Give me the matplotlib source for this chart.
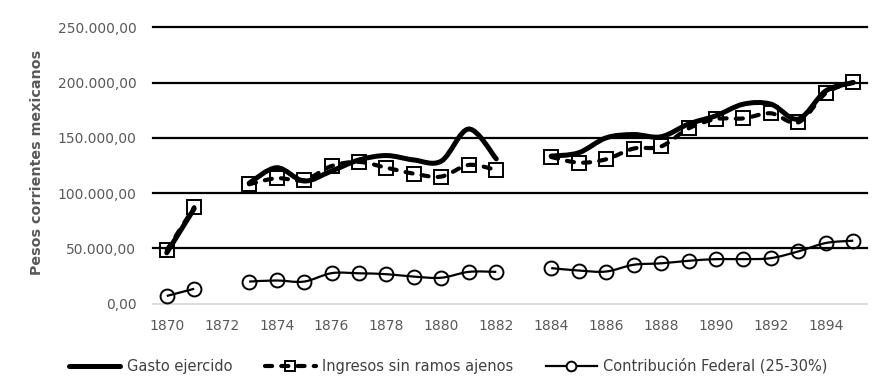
import numpy as np
import matplotlib
matplotlib.use('Agg')
import matplotlib.pyplot as plt
from matplotlib.path import Path
from matplotlib.patches import PathPatch
from matplotlib.lines import Line2D
from matplotlib.ticker import FuncFormatter

nan = float('nan')
years = list(range(1870, 1896))
gasto = [46000, 86000, nan, 109000, 123000, 111000, 120000, 130000, 134000, 130000,
         129000, 158000, 131000, nan, 133500, 136500, 150000, 153000, 151000, 162500,
         170000, 180500, 180500, 167000, 192500, 200000]
ingresos = [48500, 87300, nan, 108000, 113500, 111800, 124500, 128200, 123000, 117600,
            115000, 125500, 121000, nan, 132700, 127600, 130600, 140300, 142200, 158500,
            167000, 167600, 172200, 164000, 190400, 200400]
contrib = [7000, 13500, nan, 20000, 21000, 20000, 27600, 27500, 26700, 24500,
           23500, 28800, 28800, nan, 32200, 30000, 29100, 35200, 36500, 38800,
           40300, 40300, 41200, 47300, 54900, 57000]
labels = ['Gasto ejercido', 'Ingresos sin ramos ajenos', 'Contribución Federal (25-30%)']
yticks = [0, 50000, 100000, 150000, 200000, 250000]


def runs(x, y):
    # pieces of the series between the gaps
    out, cx, cy = [], [], []
    for a, b in zip(x, y):
        if np.isnan(b):
            if cx:
                out.append((cx, cy))
            cx, cy = [], []
        else:
            cx.append(a)
            cy.append(b)
    if cx:
        out.append((cx, cy))
    return out


def smooth_path(x, y):
    # excel-like smoothed line (catmull-rom as bezier)
    verts = [(x[0], y[0])]
    codes = [Path.MOVETO]
    n = len(x)
    for i in range(n - 1):
        x0, y0 = (x[i - 1], y[i - 1]) if i > 0 else (x[i], y[i])
        x3, y3 = (x[i + 2], y[i + 2]) if i + 2 < n else (x[i + 1], y[i + 1])
        c1 = (x[i] + (x[i + 1] - x0) / 6, y[i] + (y[i + 1] - y0) / 6)
        c2 = (x[i + 1] - (x3 - x[i]) / 6, y[i + 1] - (y3 - y[i]) / 6)
        verts += [c1, c2, (x[i + 1], y[i + 1])]
        codes += [Path.CURVE4] * 3
    return Path(verts, codes)


fig = plt.figure(figsize=(8.83, 3.91), dpi=100)
ax = fig.add_axes([153 / 883, (391 - 303.7) / 391, 714 / 883, 276.4 / 391])

dash = (0, (1.7, 2.2))
for xs, ys in runs(years, gasto):
    ax.add_patch(PathPatch(smooth_path(xs, ys), fill=False, lw=3.6, edgecolor='black',
                           capstyle='round', joinstyle='round', zorder=3))
for xs, ys in runs(years, ingresos):
    ax.add_patch(PathPatch(smooth_path(xs, ys), fill=False, lw=3.0, edgecolor='black',
                           linestyle=dash, capstyle='round', zorder=4))
ax.plot(years, ingresos, ls='none', marker='s', ms=10, mfc='none', mec='black', mew=1.4, zorder=5)
for xs, ys in runs(years, contrib):
    ax.add_patch(PathPatch(smooth_path(xs, ys), fill=False, lw=1.6, edgecolor='black', zorder=6))
ax.plot(years, contrib, ls='none', marker='o', ms=10, mfc='none', mec='black', mew=1.4, zorder=7)

ax.set_xlim(1869.5, 1895.5)
ax.set_ylim(0, 250000)
ax.set_xticks(years[::2])
ax.set_yticks(yticks)
ax.yaxis.set_major_formatter(FuncFormatter(
    lambda v, p: f"{v:,.2f}".replace(',', 'X').replace('.', ',').replace('X', '.')))
ax.tick_params(axis='both', length=0, labelsize=10, colors='#595959')
ax.tick_params(axis='y', pad=12)
ax.tick_params(axis='x', pad=11)

ax.grid(axis='y', color='black', lw=1.6)
ax.set_axisbelow(True)
gl = ax.yaxis.get_gridlines()
gl[0].set_visible(False)
for g in gl:
    g.set_clip_on(False)
for s in ['top', 'right', 'left']:
    ax.spines[s].set_visible(False)
ax.spines['bottom'].set_color('#d9d9d9')
ax.spines['bottom'].set_linewidth(1.3)

fig.text(37 / 883, (391 - 162.5) / 391, 'Pesos corrientes mexicanos', rotation=90,
         ha='center', va='center', fontsize=10.3, fontweight='bold', color='#595959')

handles = [
    Line2D([], [], color='black', lw=3.6, solid_capstyle='round'),
    Line2D([], [], color='black', lw=3.0, ls=dash, dash_capstyle='round',
           marker='s', ms=7, mfc='none', mec='black', mew=1.4),
    Line2D([], [], color='black', lw=1.6, marker='o', ms=7, mfc='white', mec='black', mew=1.4),
]
fig.legend(handles, labels, loc='center', bbox_to_anchor=(0.5 + 7 / 883, (391 - 366) / 391),
           ncol=3, frameon=False, fontsize=10.5, handlelength=3.5, handletextpad=0.45,
           columnspacing=2.2, labelcolor='#404040')

fig.savefig('out.png', dpi=100)
